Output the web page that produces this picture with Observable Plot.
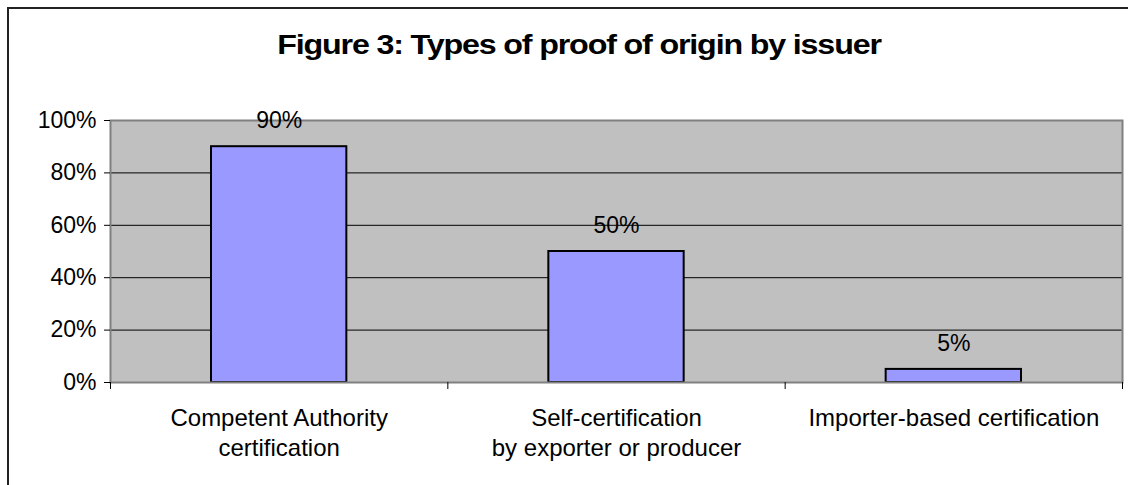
<!DOCTYPE html>
<html>
<head>
<meta charset="utf-8">
<script src="https://cdn.jsdelivr.net/npm/d3@7"></script>
<script src="https://cdn.jsdelivr.net/npm/@observablehq/plot@0.6"></script>
<style>
  body { margin: 0; background: #fff; }
  #wrap { position: relative; width: 1128px; height: 485px; overflow: hidden; font-family: "Liberation Sans", Arial, sans-serif; background: #fff; }
  #border { position: absolute; left: 7px; top: 7px; width: 1200px; height: 600px; border: 2px solid #222; box-sizing: border-box; }
  #title { position: absolute; left: 0; width: 1158px; top: 31px; line-height: 28px; text-align: center; font-weight: bold; font-size: 28px; letter-spacing: -1px; color: #000; transform: scaleX(1.15); transform-origin: 579px 0; }
  #chart { position: absolute; left: 0; top: 0; }
</style>
</head>
<body>
<div id="wrap">
  <div id="border"></div>
  <div id="title">Figure 3: Types of proof of origin by issuer</div>
  <div id="chart"></div>
</div>
<script>
const categories = ["Competent Authority\ncertification", "Self-certification\nby exporter or producer", "Importer-based certification"];
const values = [90, 50, 5];
const valueLabels = ["90%", "50%", "5%"];
const yTicks = [0, 20, 40, 60, 80, 100];
const yTickLabels = ["0%", "20%", "40%", "60%", "80%", "100%"];
const gridValues = [20, 40, 60, 80];

const data = categories.map((c, i) => ({category: c, index: i, value: values[i], label: valueLabels[i]}));
const boundaries = d3.range(categories.length + 1);

const plot = Plot.plot({
  width: 1128,
  height: 485,
  marginLeft: 110,
  marginRight: 6,
  marginTop: 120,
  marginBottom: 103,
  style: {fontFamily: "'Liberation Sans', Arial, sans-serif", fontSize: "22px", background: "transparent", color: "#000"},
  x: {domain: [0, categories.length], axis: null, label: null},
  y: {domain: [0, 100], axis: null, label: null},
  marks: [
    Plot.frame({fill: "#C0C0C0"}),
    Plot.ruleY(gridValues, {stroke: "#000", strokeWidth: 1}),
    Plot.rectY(data, {x1: d => d.index, x2: d => d.index + 1, y: "value", fill: "#9999FF", stroke: "#000", strokeWidth: 2, insetLeft: 101, insetRight: 101}),
    Plot.frame({stroke: "#808080", strokeWidth: 2}),
    Plot.axisY({ticks: yTicks, tickFormat: d => yTickLabels[yTicks.indexOf(d)], tickSize: 6, tickPadding: 8, fontSize: 23, stroke: "#000", label: null}),
    Plot.axisX({ticks: boundaries, tickFormat: () => "", tickSize: 7, stroke: "#000", label: null}),
    Plot.text(data, {x: d => d.index + 0.5, text: "category", frameAnchor: "bottom", lineAnchor: "top", dy: 22, lineHeight: 1.25, fontSize: 24, fill: "#000"}),
    Plot.text(data, {x: d => d.index + 0.5, y: "value", text: "label", dy: -26, fontSize: 23, fill: "#000"})
  ]
});
document.getElementById("chart").appendChild(plot);
</script>
</body>
</html>
